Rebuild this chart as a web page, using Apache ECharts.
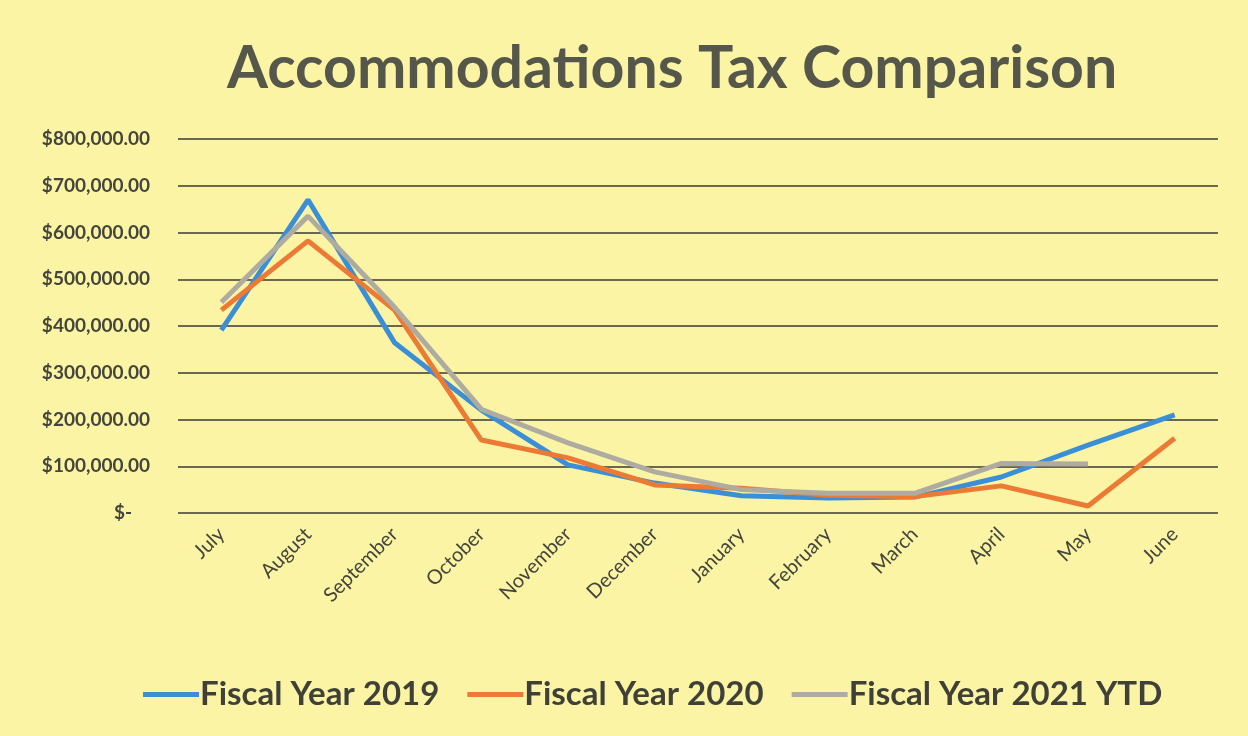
<!DOCTYPE html>
<html><head><meta charset="utf-8">
<script src="https://cdn.jsdelivr.net/npm/echarts@6/dist/echarts.min.js"></script>
<style>html,body{margin:0;padding:0;background:#fbf4a4;}#c{width:1248px;height:736px;}</style>
</head><body><div id="c"></div>
<script>
const categories = ['July','August','September','October','November','December','January','February','March','April','May','June'];
const fy2019 = [391000, 670000, 364000, 220000, 103000, 64000, 37000, 32000, 34000, 77000, 145000, 210000];
const fy2020 = [434000, 582000, 434000, 156000, 118000, 60000, 53000, 38000, 35000, 58000, 15000, 160000];
const fy2021 = [451000, 635000, 440000, 222000, 150000, 88000, 50000, 42000, 42000, 106000, 105000, null];
const seriesNames = ['Fiscal Year 2019','Fiscal Year 2020','Fiscal Year 2021 YTD'];

function fmt(v){
  if (v === 0) return '{z|$-}';
  return '$' + v.toLocaleString('en-US') + '.00';
}
const chart = echarts.init(document.getElementById('c'));
const colors = ['#3b8fd6','#ec7a34','#aeaca0'];
chart.setOption({
  backgroundColor: '#fbf4a4',
  color: colors,
  title: {
    text: 'Accommodations Tax Comparison',
    left: 222, top: 34,
    textStyle: {fontFamily: 'Lato', fontWeight: 'bold', fontSize: 59, color: '#55574a'}
  },
  legend: {
    bottom: 20, left: 138,
    itemWidth: 56, itemHeight: 5, itemGap: 28,
    icon: 'rect',
    data: seriesNames,
    textStyle: {fontFamily: 'Lato', fontWeight: 'bold', fontSize: 33, color: '#3f4038', padding: [0,0,0,-4]}
  },
  grid: {left: 178, right: 30, top: 139, bottom: 223},
  xAxis: {
    type: 'category', data: categories, boundaryGap: true,
    axisLine: {show: false}, axisTick: {show: false},
    axisLabel: {rotate: 45, fontFamily: 'Lato', fontSize: 20, color: '#44453c', margin: 18}
  },
  yAxis: {
    type: 'value', min: 0, max: 800000, interval: 100000,
    axisLine: {show: false}, axisTick: {show: false},
    axisLabel: {formatter: fmt, fontFamily: 'Lato', fontWeight: 'bold', fontSize: 19, color: '#44453c', margin: 28,
      rich: {z: {fontFamily: 'Lato', fontWeight: 'bold', fontSize: 19, color: '#44453c', padding: [0, 18, 0, 0]}}},
    splitLine: {lineStyle: {color: '#3a3a32', width: 1.5}}
  },
  series: [
    {name: seriesNames[0], type: 'line', data: fy2019, symbol: 'none', lineStyle: {width: 5}},
    {name: seriesNames[1], type: 'line', data: fy2020, symbol: 'none', lineStyle: {width: 5}},
    {name: seriesNames[2], type: 'line', data: fy2021, symbol: 'none', lineStyle: {width: 5}}
  ]
});
</script></body></html>
